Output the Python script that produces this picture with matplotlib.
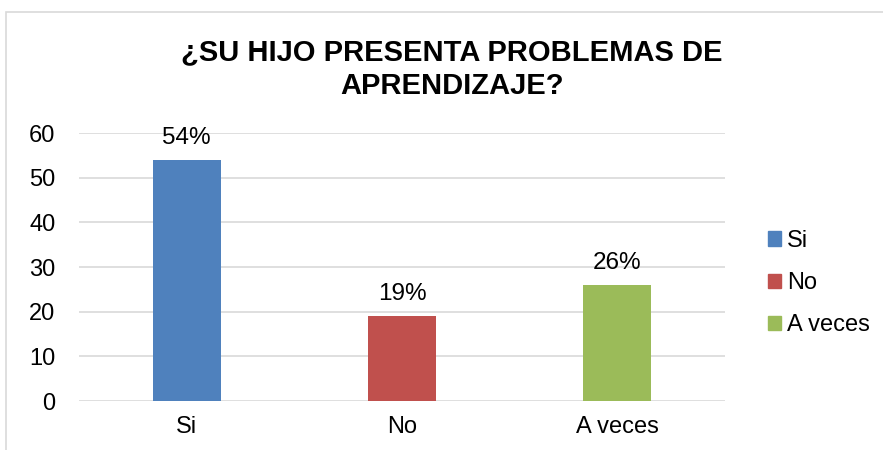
import matplotlib.pyplot as plt
from matplotlib.patches import Rectangle, Patch

plt.rcParams['font.family'] = ['Liberation Sans', 'DejaVu Sans']

categories = ["Si", "No", "A veces"]
values = [54, 19, 26]
labels = ["54%", "19%", "26%"]
colors = ["#4F81BD", "#C0504D", "#9BBB59"]
yticks = [0, 10, 20, 30, 40, 50, 60]

W, H = 883, 450
fig = plt.figure(figsize=(W / 100, H / 100), dpi=100)

# chart border
fig.patches.append(Rectangle((6 / W, -0.1), 2, (H - 12) / H + 0.1,
                             transform=fig.transFigure, fill=False,
                             edgecolor="#d9d9d9", linewidth=1.2))

ax = fig.add_axes([79 / W, (H - 401) / H, 646 / W, 268 / H])
ax.bar(range(len(categories)), values, width=0.315, color=colors, zorder=3)
for i, v in enumerate(values):
    ax.annotate(labels[i], (i, v), xytext=(0, 11.5), textcoords="offset points",
                ha="center", va="baseline", fontsize=17.5)

ax.set_xlim(-0.5, 2.5)
ax.set_ylim(0, 60)
ax.set_yticks(yticks)
ax.set_xticks(range(len(categories)))
ax.set_xticklabels(categories)
ax.tick_params(axis="both", length=0, labelsize=17)
ax.tick_params(axis="y", pad=17)
ax.tick_params(axis="x", pad=10.5)
ax.grid(axis="y", color="#d9d9d9", linewidth=1.2, zorder=0)
for s in ax.spines.values():
    s.set_visible(False)

fig.text(452 / W, 1 - 69 / H, "¿SU HIJO PRESENTA PROBLEMAS DE\nAPRENDIZAJE?",
         ha="center", va="center", fontsize=21, fontweight="bold",
         linespacing=1.28)

handles = [Patch(color=c, label=n) for c, n in zip(colors, categories)]
fig.legend(handles=handles, loc="center left", bbox_to_anchor=(747 / W, 1 - 283 / H),
           frameon=False, fontsize=17, handlelength=0.55, handleheight=0.55,
           handletextpad=0.25, labelspacing=0.85)

fig.savefig("out.png", dpi=100)
